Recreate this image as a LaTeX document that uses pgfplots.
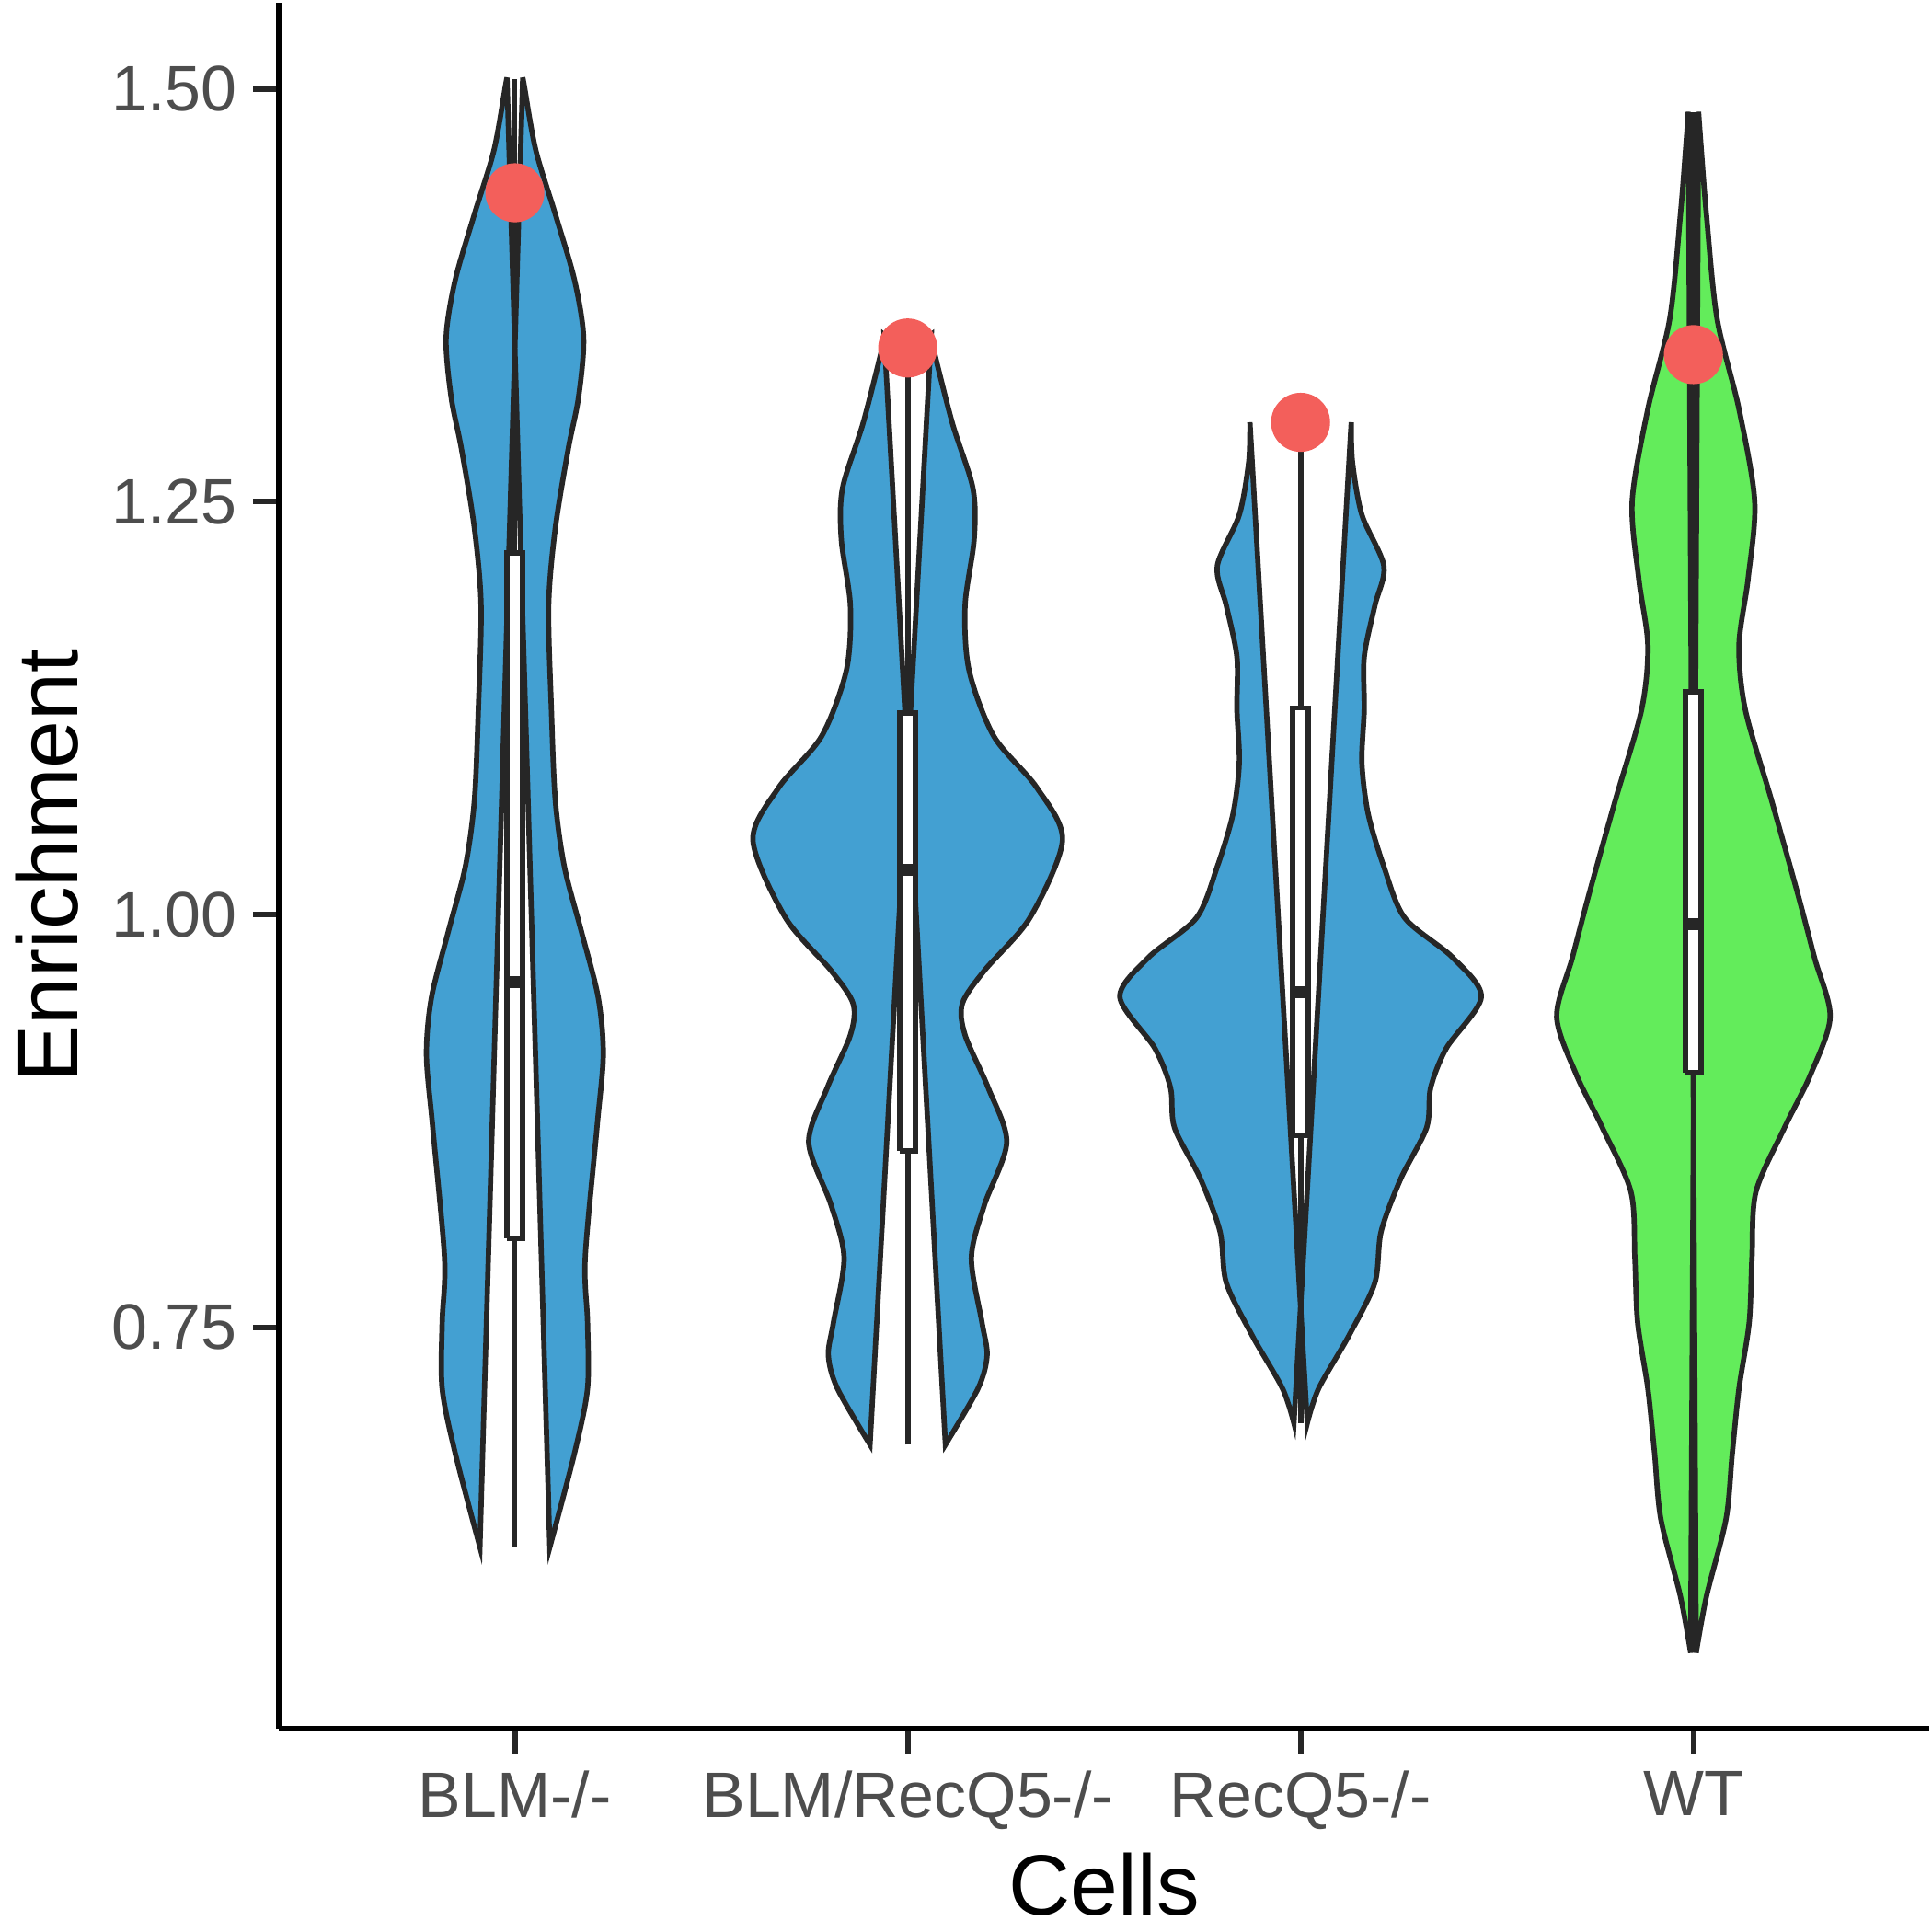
\documentclass[border=0pt]{standalone}
\usepackage{pgfplots}
\pgfplotsset{compat=1.18}
\usepackage{pgfplotstable}
\usepgfplotslibrary{fillbetween}
\usepackage{fontspec}
\setmainfont{Liberation Sans}
\definecolor{vblue}{HTML}{43A0D2}
\definecolor{vgreen}{HTML}{63EC5B}
\definecolor{vred}{HTML}{F35F5B}
\definecolor{vline}{HTML}{262626}
\definecolor{tickgray}{HTML}{4D4D4D}
\pgfplotstableread{
y w
0.617 0.089
0.674 0.152
0.713 0.185
0.753 0.185
0.792 0.179
0.871 0.209
0.915 0.225
0.950 0.212
0.990 0.169
1.029 0.126
1.069 0.103
1.124 0.093
1.187 0.086
1.234 0.103
1.282 0.136
1.313 0.162
1.349 0.175
1.384 0.152
1.424 0.103
1.463 0.053
1.503 0.023
1.506 0.020
}\vA
\pgfplotstableread{
y w
0.679 0.096
0.713 0.179
0.733 0.202
0.753 0.189
0.792 0.162
0.824 0.195
0.862 0.252
0.895 0.205
0.927 0.146
0.946 0.139
0.966 0.195
0.998 0.311
1.045 0.394
1.077 0.328
1.108 0.219
1.148 0.156
1.187 0.146
1.227 0.169
1.258 0.166
1.298 0.113
1.345 0.063
1.351 0.060
}\vB
\pgfplotstableread{
y w
0.692 0.017
0.713 0.046
0.745 0.123
0.777 0.189
0.808 0.205
0.840 0.255
0.871 0.321
0.895 0.331
0.919 0.371
0.950 0.460
0.974 0.387
0.998 0.265
1.029 0.212
1.061 0.172
1.092 0.156
1.124 0.162
1.156 0.162
1.187 0.189
1.211 0.212
1.242 0.156
1.274 0.132
1.298 0.129
}\vC
\pgfplotstableread{
y w
0.553 0.007
0.587 0.033
0.634 0.083
0.674 0.099
0.713 0.116
0.753 0.142
0.792 0.149
0.832 0.159
0.871 0.232
0.903 0.298
0.938 0.348
0.974 0.308
1.013 0.265
1.069 0.199
1.124 0.132
1.163 0.116
1.203 0.139
1.250 0.156
1.306 0.116
1.361 0.060
1.424 0.033
1.463 0.020
1.486 0.013
}\vD
\newcommand{\violin}[3]{%
  \addplot[draw=none,smooth,name path=r#1] table[x expr=#1+\thisrow{w},y=y]{#2};
  \addplot[draw=none,smooth,name path=l#1] table[x expr=#1-\thisrow{w},y=y]{#2};
  \addplot[fill=#3,draw=vline,line width=1.1pt] fill between[of=r#1 and l#1];
}
\newcommand{\bxp}[7]{% x, lo, hi, q1, q3, med, mean
  \addplot[vline,line width=1.1pt] coordinates {(#1,#2) (#1,#3)};
  \addplot[fill=white,draw=vline,line width=1.1pt] coordinates {(#1-0.02,#4) (#1+0.02,#4) (#1+0.02,#5) (#1-0.02,#5) (#1-0.02,#4)};
  \addplot[vline,line width=2.5pt] coordinates {(#1-0.02,#6) (#1+0.02,#6)};
  \addplot[only marks,mark=*,mark size=6pt,color=vred] coordinates {(#1,#7)};
}
\begin{document}
\begin{tikzpicture}
\begin{axis}[
  scale only axis, width=12.18cm, height=12.74cm,
  xmin=0.4, xmax=4.6, ymin=0.507, ymax=1.552,
  axis lines=left, axis line style={-, line width=1.2pt, black},
  xtick={1,2,3,4}, xticklabels={BLM-/-,BLM/RecQ5-/-,RecQ5-/-,WT},
  ytick={0.75,1.00,1.25,1.50},
  yticklabel style={/pgf/number format/fixed,/pgf/number format/fixed zerofill,/pgf/number format/precision=2},
  /pgf/number format/assume math mode=true,
  tick style={line width=1.2pt, vline},
  tick align=outside, major tick length=0.19cm,
  ticklabel style={font=\fontsize{13.5}{16}\selectfont, text=tickgray},
  xlabel={Cells}, ylabel={Enrichment},
  label style={font=\fontsize{18}{21}\selectfont},
  xlabel style={yshift=2pt},
  clip=false,
]
\violin{1}{\vA}{vblue}
\violin{2}{\vB}{vblue}
\violin{3}{\vC}{vblue}
\violin{4}{\vD}{vgreen}
\bxp{1}{0.617}{1.506}{0.804}{1.219}{0.959}{1.437}
\bxp{2}{0.679}{1.351}{0.857}{1.122}{1.027}{1.343}
\bxp{3}{0.692}{1.298}{0.866}{1.125}{0.953}{1.298}
\bxp{4}{0.584}{1.486}{0.904}{1.135}{0.994}{1.339}
\end{axis}
\end{tikzpicture}
\end{document}
